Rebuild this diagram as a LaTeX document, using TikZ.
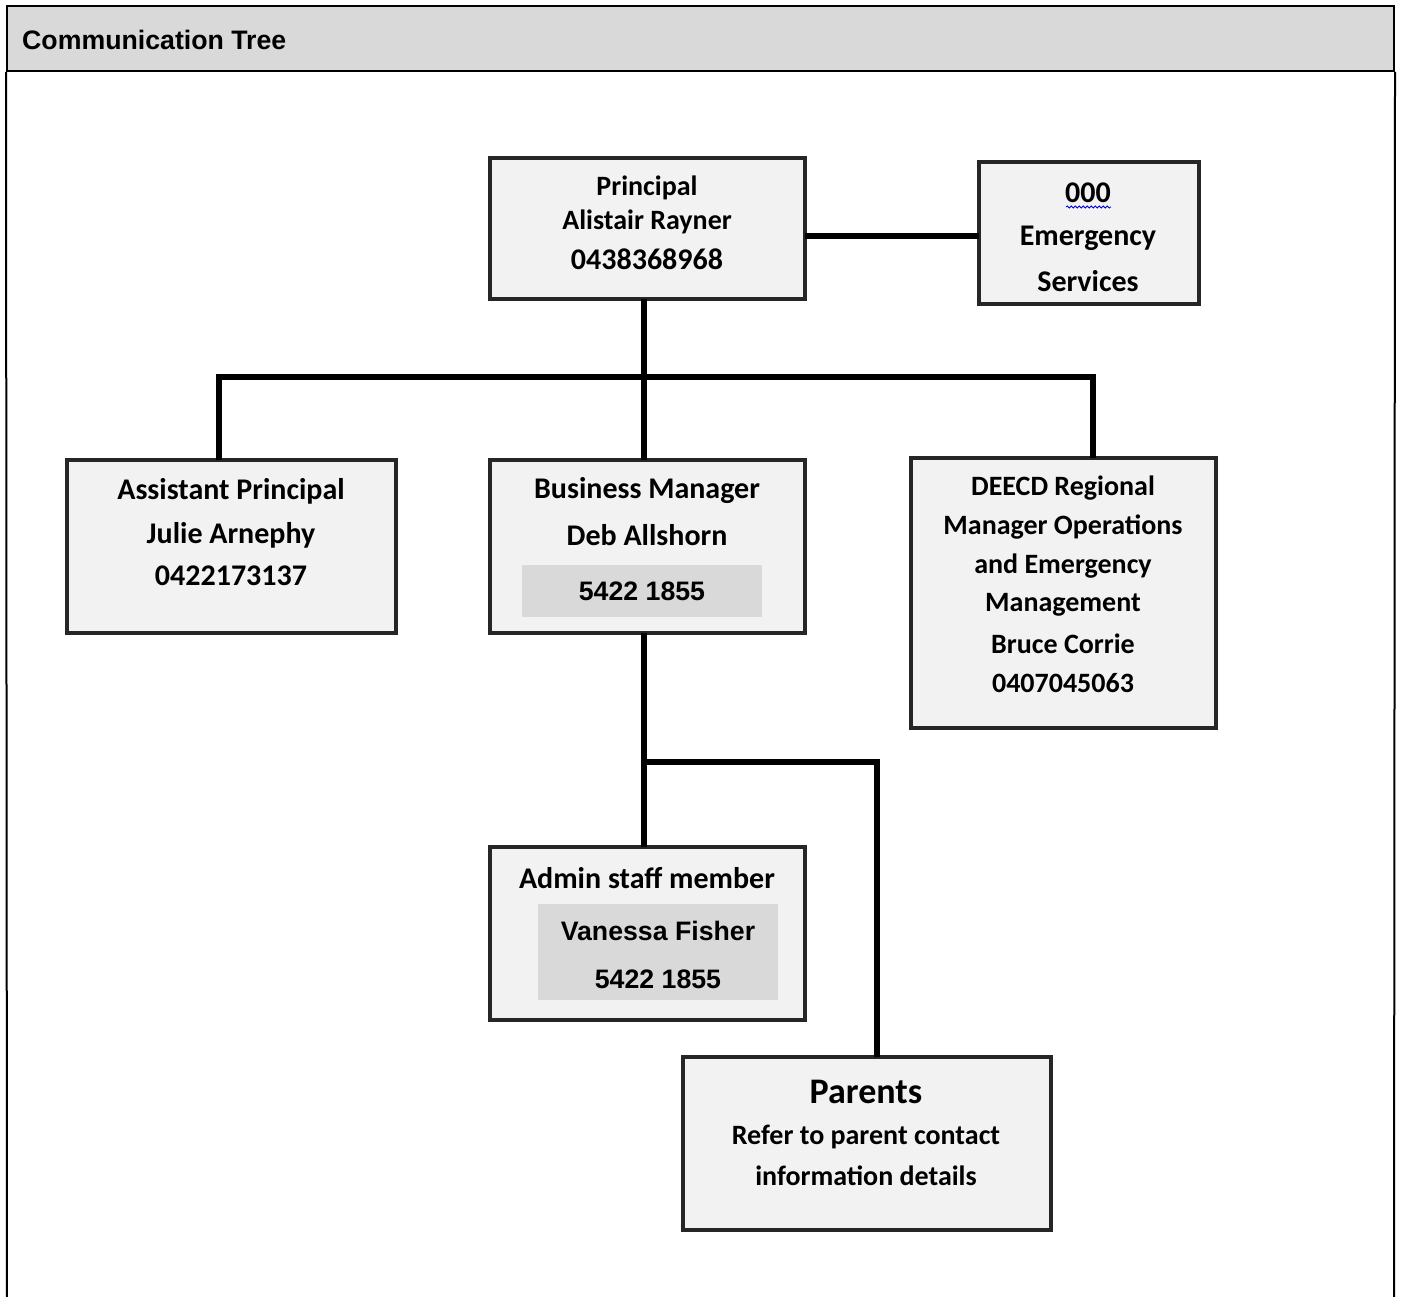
\documentclass[tikz,border=0pt]{standalone}
\usepackage{fontspec}
\setmainfont{Carlito}
\newfontfamily\arialf{Liberation Sans}
\usetikzlibrary{decorations.pathmorphing}
\definecolor{boxfill}{HTML}{F2F2F2}
\definecolor{boxline}{HTML}{262626}
\definecolor{shade}{HTML}{D9D9D9}
\tikzset{
  box/.style={draw=boxline, line width=4pt, fill=boxfill, inner sep=0pt, outer sep=0pt},
  inner/.style={fill=shade, inner sep=0pt, outer sep=0pt},
  conn/.style={draw=black, line width=5.5pt, line join=miter},
  frame/.style={draw=black, line width=2pt},
  txt/.style={font=\bfseries\fontsize{30}{34}\selectfont, inner sep=0pt, text=black},
  txtm/.style={txt, font=\bfseries\fontsize{28}{32}\selectfont},
  atxt/.style={font=\arialf\bfseries\fontsize{26.7}{30}\selectfont, inner sep=0pt},
}
\begin{document}
\begin{tikzpicture}[x=1pt,y=-1pt]
\useasboundingbox (0,0) rectangle (1402,1297);
\fill[white] (0,0) rectangle (1402,1297);
% header
\node[fill=shade, draw=black, line width=2pt, minimum width=1387pt, minimum height=65pt, inner sep=0pt] (hdr) at (700.5,38.5) {};
\node[atxt, anchor=west] (title) at (22,40) {Communication Tree};
\draw[frame] (hdr.south west) -- (7,1297);
\draw[frame] (hdr.south east) -- (1394,1297);

% boxes
\node[box, minimum width=315pt, minimum height=141pt] (prin) at (647.5,228.5) {};
\node[box, minimum width=220pt, minimum height=142pt] (em) at (1089,233) {};
\node[box, minimum width=329pt, minimum height=173pt] (ap) at (231.5,546.5) {};
\node[box, minimum width=315pt, minimum height=173pt] (bm) at (647.5,546.5) {};
\node[box, minimum width=305pt, minimum height=270pt] (de) at (1063.5,593) {};
\node[box, minimum width=315pt, minimum height=173pt] (ad) at (647.5,933.5) {};
\node[box, minimum width=368pt, minimum height=173pt] (pa) at (867,1143.5) {};

\node[inner, minimum width=240pt, minimum height=52pt] (bmg) at (642,591) {};
\node[inner, minimum width=240pt, minimum height=96pt] (adg) at (658,952) {};

% texts
\node[txtm] (t1) at (647,188) {Principal};
\node[txtm] (t2) at (647,222) {Alistair Rayner};
\node[txt] (t3) at (647,259) {0438368968};

\node[txt] (e1) at (1088,193) {000};
\draw[blue!80!black, line width=0.8pt, decorate, decoration={snake, amplitude=1pt, segment length=4pt}] (1066,207) -- (1111,207);
\node[txt] (e2) at (1088,238) {Emergency};
\node[txt] (e3) at (1088,281) {Services};

\node[txt] (a1) at (231,491) {Assistant Principal};
\node[txt] (a2) at (231,535) {Julie Arnephy};
\node[txt] (a3) at (231,576) {0422173137};

\node[txt] (b1) at (647,491) {Business Manager};
\node[txt] (b2) at (647,535) {Deb Allshorn};
\node[atxt] (b3) at (642,591) {5422 1855};

\node[txtm] (d1) at (1063,488) {DEECD Regional};
\node[txtm] (d2) at (1063,527) {Manager Operations};
\node[txtm] (d3) at (1063,566) {and Emergency};
\node[txtm] (d4) at (1063,605) {Management};
\node[txtm] (d5) at (1063,644) {Bruce Corrie};
\node[txtm] (d6) at (1063,683) {0407045063};

\node[txt] (m1) at (647,878) {Admin staff member};
\node[atxt] (m2) at (658,931) {Vanessa Fisher};
\node[atxt] (m3) at (658,979) {5422 1855};

\node[txt, font=\bfseries\fontsize{36}{40}\selectfont] (p1) at (866,1092) {Parents};
\node[txtm] (p2) at (866,1137) {Refer to parent contact};
\node[txtm] (p3) at (866,1176) {information details};

% connectors
\coordinate (ey) at (0,236);
\draw[conn] (prin.east |- ey) -- (em.west |- ey);
\coordinate (j1) at (644,377);
\coordinate (bl) at (219,377);
\coordinate (br) at (1093,377);
\draw[conn] (j1 |- prin.south) -- (j1);
\draw[conn] (bl |- ap.north) -- (bl) -- (br) -- (br |- de.north);
\draw[conn] (j1) -- (j1 |- bm.north);
\coordinate (j2) at (644,762);
\coordinate (j3) at (877,762);
\draw[conn] (j2 |- bm.south) -- (j2) -- (j3) -- (j3 |- pa.north);
\draw[conn] (j2) -- (j2 |- ad.north);
\end{tikzpicture}
\end{document}
